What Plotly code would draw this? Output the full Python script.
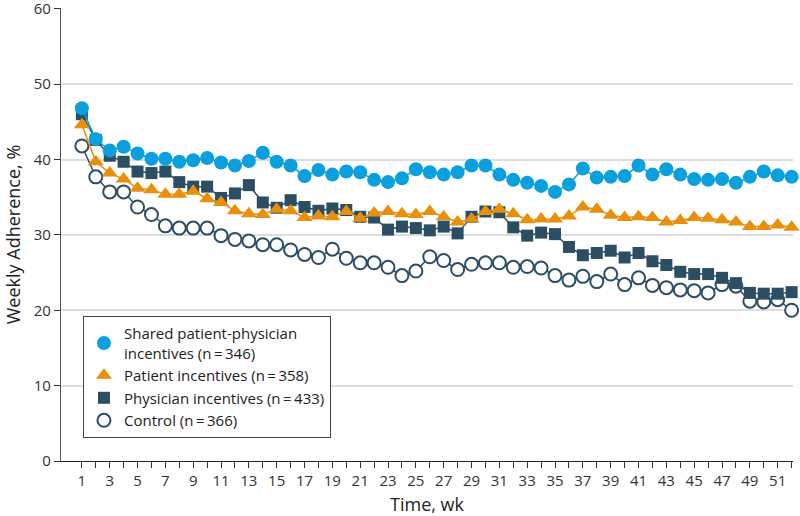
import plotly.graph_objects as go

weeks = list(range(1, 53))
tick_labels = [str(w) if w % 2 == 1 else "" for w in weeks]

shared = [46.8, 42.7, 41.2, 41.7, 40.8, 40.1, 40.1, 39.7, 39.9, 40.2,
          39.6, 39.2, 39.8, 40.9, 39.7, 39.2, 37.8, 38.6, 38.0, 38.4,
          38.3, 37.3, 37.0, 37.5, 38.7, 38.3, 38.0, 38.3, 39.2, 39.2,
          38.0, 37.3, 36.9, 36.5, 35.7, 36.7, 38.8, 37.6, 37.7, 37.8,
          39.2, 38.0, 38.7, 38.0, 37.4, 37.3, 37.4, 36.9, 37.7, 38.4,
          37.9, 37.7]
patient = [44.6, 39.7, 38.2, 37.4, 36.2, 36.0, 35.4, 35.4, 35.8, 34.8,
           34.3, 33.2, 32.8, 32.7, 33.4, 33.2, 32.3, 32.5, 32.4, 33.1,
           32.2, 32.9, 33.1, 32.8, 32.7, 33.1, 32.4, 31.7, 32.1, 33.1,
           33.4, 32.8, 32.0, 32.1, 32.1, 32.5, 33.7, 33.4, 32.6, 32.3,
           32.4, 32.3, 31.7, 31.9, 32.3, 32.2, 32.0, 31.7, 31.1, 31.1,
           31.3, 31.0]
physician = [46.0, 42.6, 40.5, 39.7, 38.4, 38.2, 38.4, 37.0, 36.4, 36.4,
             34.9, 35.5, 36.6, 34.3, 33.6, 34.6, 33.7, 33.2, 33.5, 33.3,
             32.4, 32.3, 30.7, 31.1, 30.9, 30.6, 31.1, 30.2, 32.4, 33.1,
             33.0, 31.0, 29.9, 30.3, 30.1, 28.4, 27.3, 27.6, 27.9, 27.0,
             27.6, 26.5, 26.0, 25.1, 24.8, 24.8, 24.3, 23.6, 22.3, 22.2,
             22.2, 22.4]
control = [41.8, 37.7, 35.7, 35.7, 33.7, 32.7, 31.2, 30.9, 30.9, 30.9,
           29.9, 29.4, 29.2, 28.7, 28.7, 28.0, 27.4, 27.0, 28.1, 26.9,
           26.3, 26.3, 25.7, 24.6, 25.2, 27.1, 26.6, 25.4, 26.1, 26.3,
           26.3, 25.7, 25.8, 25.6, 24.6, 24.0, 24.5, 23.8, 24.8, 23.4,
           24.3, 23.3, 23.0, 22.7, 22.6, 22.3, 23.4, 23.2, 21.2, 21.1,
           21.4, 20.0]

names = ["Shared patient-physician<br>incentives (n\u2009=\u2009346)",
         "Patient incentives (n\u2009=\u2009358)",
         "Physician incentives (n\u2009=\u2009433)",
         "Control (n\u2009=\u2009366)"]

BLUE = "#0aa0de"
ORANGE = "#e88f0c"
SLATE = "#2c4e63"

series = [
    (control, names[3], SLATE, dict(symbol="circle", size=13, color="white",
                                    line=dict(color=SLATE, width=2)), 4),
    (physician, names[2], SLATE, dict(symbol="square", size=12, color=SLATE), 3),
    (patient, names[1], ORANGE, dict(symbol="triangle-up", size=14, color=ORANGE), 2),
    (shared, names[0], BLUE, dict(symbol="circle", size=14, color=BLUE), 1),
]

fig = go.Figure()
for vals, name, col, mk, rank in series:
    fig.add_trace(go.Scatter(x=weeks, y=vals, mode="lines",
                             line=dict(color=col, width=1.5),
                             showlegend=False, hoverinfo="skip",
                             cliponaxis=False))
    fig.add_trace(go.Scatter(x=weeks, y=vals, mode="markers", name=name,
                             marker=mk, legendrank=rank, cliponaxis=False))

font = "Open Sans"
fig.update_layout(
    width=800, height=516,
    margin=dict(l=61, r=7, t=8, b=55),
    paper_bgcolor="white", plot_bgcolor="white",
    font=dict(family=font, size=15, color="#222"),
    showlegend=True,
    legend=dict(x=0.03, y=0.32, xanchor="left", yanchor="top",
                bgcolor="white", bordercolor="#444", borderwidth=1,
                font=dict(family=font, size=15, color="#222"),
                tracegroupgap=0, itemwidth=30),
    xaxis=dict(range=[-0.5, 52.1], tickmode="array", tickvals=weeks,
               ticktext=tick_labels, ticks="outside", ticklen=6,
               tickcolor="#333", showline=True, linecolor="#222",
               linewidth=1.2, showgrid=False, zeroline=False,
               automargin=False, ticklabeloverflow="allow",
               title=dict(text="Time, wk", standoff=10),
               tickfont=dict(size=15, color="#333")),
    yaxis=dict(range=[0, 60.1], tickmode="array",
               tickvals=[0, 10, 20, 30, 40, 50, 60], ticks="outside", ticklen=6,
               tickcolor="#333", showline=True, linecolor="#555",
               linewidth=1.2, showgrid=True, gridcolor="#dddddd",
               gridwidth=1.5, zeroline=False, automargin=False,
               ticklabeloverflow="allow",
               title=dict(text="Weekly Adherence, %", standoff=8),
               tickfont=dict(size=15, color="#333")),
)

fig.write_html("out.html", config={"displayModeBar": False},
               post_script="document.body.style.margin='0';")
